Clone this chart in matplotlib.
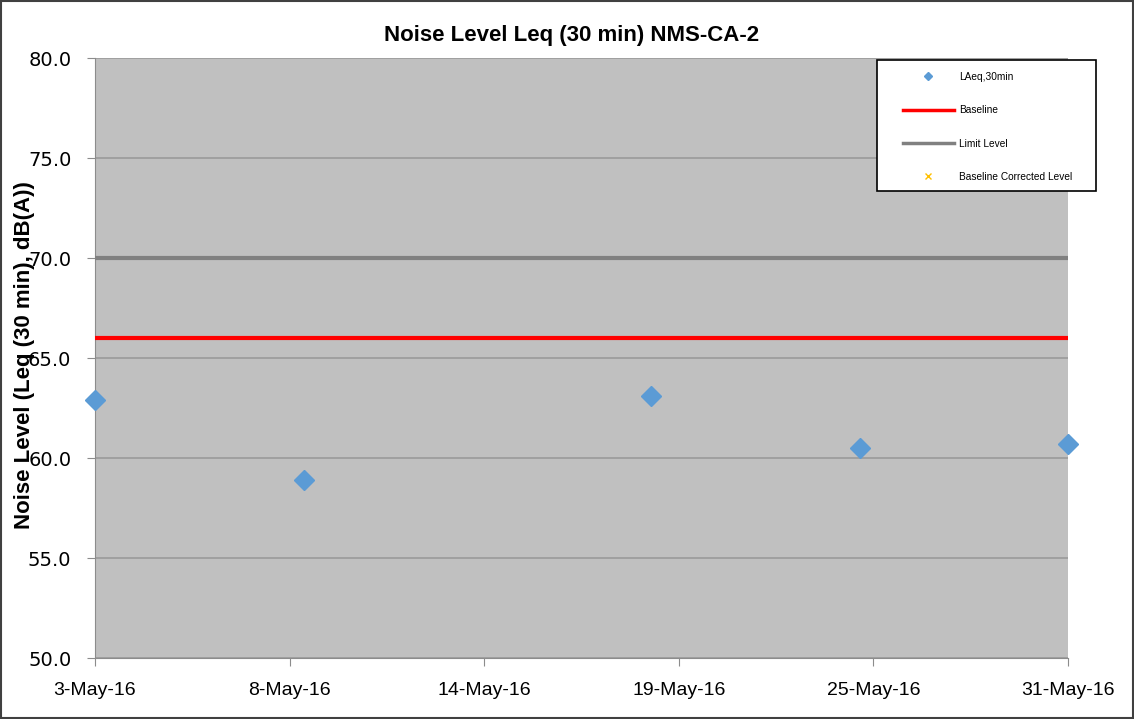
import matplotlib.pyplot as plt
import matplotlib.dates as mdates
from matplotlib.patches import Rectangle
import datetime as dt

# data
dates = [dt.date(2016, 5, 3), dt.date(2016, 5, 9), dt.date(2016, 5, 19),
         dt.date(2016, 5, 25), dt.date(2016, 5, 31)]
laeq = [62.9, 58.9, 63.1, 60.5, 60.7]
baseline = 66.0
limit_level = 70.0
corrected_dates = []
corrected = []

yticks = [50, 55, 60, 65, 70, 75, 80]
tick_labels = ['3-May-16', '8-May-16', '14-May-16', '19-May-16', '25-May-16', '31-May-16']
legend_labels = ['LAeq,30min', 'Baseline', 'Limit Level', 'Baseline Corrected Level']

plt.rcParams['font.family'] = 'Liberation Sans'

fig = plt.figure(figsize=(11.34, 7.19), dpi=100)
ax = fig.add_axes([0.0838, 0.0848, 0.8580, 0.8345])
ax.set_facecolor('#c0c0c0')

# date axis: 5 equal steps between first and last day (Excel style)
x0 = mdates.date2num(dt.date(2016, 5, 3))
x1 = mdates.date2num(dt.date(2016, 5, 31))
ax.set_xlim(x0, x1)
ax.set_ylim(50, 80)

ax.set_yticks(yticks)
ax.set_yticklabels(['%.1f' % v for v in yticks], fontsize=14, family='DejaVu Sans')
ticks = [x0 + i * (x1 - x0) / 5 for i in range(6)]
ax.set_xticks(ticks)
ax.set_xticklabels(tick_labels, fontsize=14)

ax.grid(axis='y', color='#9a9a9a', linewidth=1.2)
ax.set_axisbelow(True)
for s in ['top', 'right']:
    ax.spines[s].set_visible(False)
for s in ['left', 'bottom']:
    ax.spines[s].set_color('#8c8c8c')
ax.tick_params(colors='#8c8c8c', labelcolor='black', length=6)
ax.tick_params(axis='x', pad=11)
ax.tick_params(axis='y', pad=11)

ax.axhline(limit_level, color='#808080', linewidth=3, zorder=3)
ax.axhline(baseline, color='#ff0000', linewidth=3, zorder=3)
ax.plot(mdates.date2num(dates), laeq, 'D', color='#5b9bd5', markersize=10,
        linestyle='none', clip_on=False, zorder=4)
ax.plot(corrected_dates, corrected, 'x', color='#ffc000', linestyle='none')

fig.text(0.5044, 0.95, 'Noise Level Leq (30 min) NMS-CA-2', fontsize=16,
         fontweight='bold', ha='center', va='center')
ax.set_ylabel('Noise Level (Leq (30 min), dB(A))', fontsize=16, fontweight='bold')
ax.yaxis.set_label_coords(-0.0617, 0.505)

# legend box drawn by hand, entries placed inside it
box = Rectangle((0.7734, 0.7344), 0.1931, 0.1822, transform=fig.transFigure,
                facecolor='white', edgecolor='black', linewidth=1.2, zorder=5)
fig.patches.append(box)

h_pts, = ax.plot([], [], 'D', color='#5b9bd5', markersize=4)
h_base, = ax.plot([], [], color='#ff0000', linewidth=2.5)
h_lim, = ax.plot([], [], color='#808080', linewidth=2.5)
h_cor, = ax.plot([], [], 'x', color='#ffc000', markersize=4)
leg = fig.legend([h_pts, h_base, h_lim, h_cor], legend_labels,
                 loc='upper left', bbox_to_anchor=(0.7963, 0.9), fontsize=7.3,
                 frameon=False, labelspacing=2.3, borderpad=0, borderaxespad=0,
                 handlelength=5, handletextpad=0.5)
leg.set_zorder(6)

fig.patches.append(Rectangle((0.001, 0.001), 0.998, 0.997, transform=fig.transFigure,
                             fill=False, edgecolor='#404040', linewidth=1.5))

fig.savefig('out.png', dpi=100)
